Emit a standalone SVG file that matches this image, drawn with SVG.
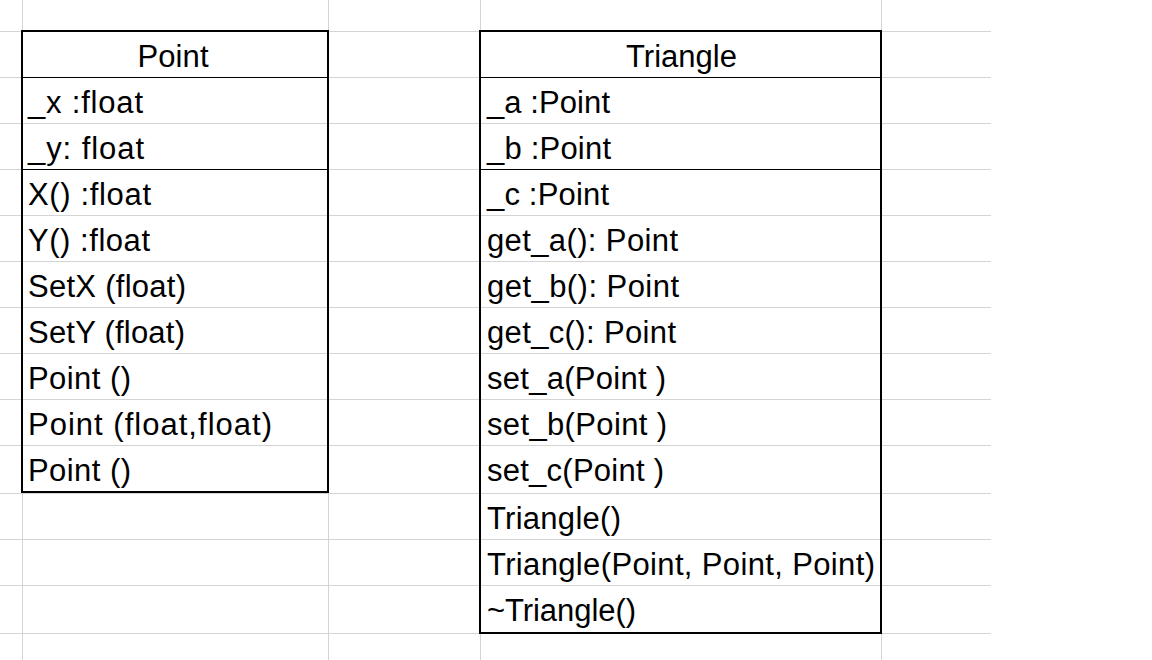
<svg xmlns="http://www.w3.org/2000/svg" width="1152" height="660" viewBox="0 0 1152 660">
  <style>
    .grid { stroke: #d4d4d4; stroke-width: 1; fill: none; }
    .frame { fill: none; stroke: #000; stroke-width: 2; }
    .sep { stroke: #000; stroke-width: 1.2; }
    text { font-family: "Liberation Sans", Arial, sans-serif; font-size: 31px; fill: #000; }
    .title { text-anchor: middle; }
  </style>
  <rect width="1152" height="660" fill="#fff"/>

  <!-- spreadsheet gridlines -->
  <g id="gridlines" class="grid">
    <path d="M0 31.5H991M0 77.5H991M0 123.5H991M0 169.5H991M0 215.5H991M0 261.5H991M0 307.5H991M0 353.5H991M0 399.5H991M0 445.5H991M0 493.5H991M0 539.5H991M0 585.5H991M0 633.5H991"/>
    <path d="M22.5 0V660M328.5 0V660M480.5 0V660M881.5 0V660"/>
  </g>

  <!-- class Point -->
  <g id="point">
    <rect class="frame" x="22" y="31" width="306" height="461"/>
    <line class="sep" x1="22" y1="77.5" x2="328" y2="77.5"/>
    <line class="sep" x1="22" y1="169.5" x2="328" y2="169.5"/>
    <text class="title" x="173" y="67" textLength="71">Point</text>
    <text x="28" y="113" textLength="115">_x :float</text>
    <text x="28" y="159" textLength="116">_y: float</text>
    <text x="28" y="205" textLength="123">X() :float</text>
    <text x="28" y="251" textLength="122">Y() :float</text>
    <text x="28" y="297" textLength="158">SetX (float)</text>
    <text x="28" y="343" textLength="157">SetY (float)</text>
    <text x="28" y="389" textLength="103">Point ()</text>
    <text x="28" y="435" textLength="244">Point (float,float)</text>
    <text x="28" y="481" textLength="103">Point ()</text>
  </g>

  <!-- class Triangle -->
  <g id="triangle">
    <rect class="frame" x="480" y="31" width="401" height="602"/>
    <line class="sep" x1="480" y1="77.5" x2="881" y2="77.5"/>
    <line class="sep" x1="480" y1="169.5" x2="881" y2="169.5"/>
    <text class="title" x="681.5" y="67" textLength="111">Triangle</text>
    <text x="487" y="113" textLength="123">_a :Point</text>
    <text x="487" y="159" textLength="124">_b :Point</text>
    <text x="487" y="205" textLength="122">_c :Point</text>
    <text x="487" y="251" textLength="191">get_a(): Point</text>
    <text x="487" y="297" textLength="192">get_b(): Point</text>
    <text x="487" y="343" textLength="189">get_c(): Point</text>
    <text x="487" y="389" textLength="179">set_a(Point )</text>
    <text x="487" y="435" textLength="180">set_b(Point )</text>
    <text x="487" y="481" textLength="177">set_c(Point )</text>
    <text x="487" y="529" textLength="134">Triangle()</text>
    <text x="487" y="575" textLength="388">Triangle(Point, Point, Point)</text>
    <text x="487" y="621" textLength="149">~Triangle()</text>
  </g>
</svg>
